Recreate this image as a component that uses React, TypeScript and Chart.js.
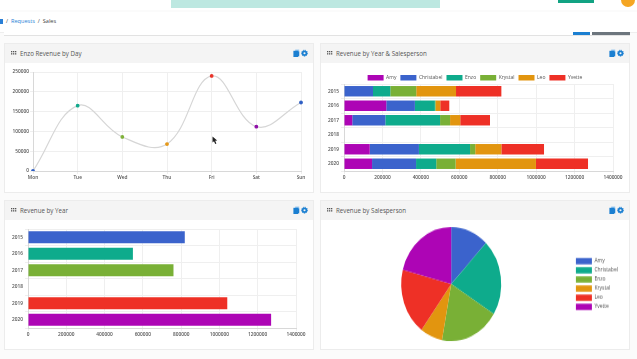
import React, { useEffect, useRef } from "react";
import { Chart, registerables } from "chart.js";

Chart.register(...registerables);

const days = ["Mon", "Tue", "Wed", "Thu", "Fri", "Sat", "Sun"];
const enzoByDay = [0, 165000, 86000, 68000, 240000, 112000, 173000];
const dayPointColors = ["#2f5fc4", "#12a98d", "#7fb13a", "#e59a1c", "#e9352b", "#8f0fa8", "#2f5fc4"];

const years = ["2015", "2016", "2017", "2018", "2019", "2020"];
const people = ["Amy", "Christabel", "Enzo", "Krystal", "Leo", "Yvette"];
const amy = [0, 220000, 43000, 0, 134000, 146000];
const christabel = [151000, 149000, 172000, 0, 256000, 229000];
const enzo = [90000, 104000, 285000, 0, 266000, 105000];
const krystal = [135000, 4000, 52000, 0, 27000, 101000];
const leo = [207000, 24000, 53000, 0, 136000, 418000];
const yvette = [236000, 47000, 155000, 0, 222000, 271000];
const stackColors = ["#ad05b5", "#3b63cc", "#0eab8c", "#79b036", "#e2950f", "#ee3026"];

const yearTotals = [819000, 548000, 760000, 0, 1041000, 1270000];
const yearColors = ["#3b63cc", "#0eab8c", "#79b036", "#e2950f", "#ee3026", "#ad05b5"];

const personTotals = [543000, 957000, 850000, 319000, 838000, 931000];
const pieColors = ["#3b63cc", "#0eab8c", "#79b036", "#e2950f", "#ee3026", "#ad05b5"];

const tickFont = { family: "'Open Sans'", size: 4.8, weight: "600" };
const legendFont = { family: "'Open Sans'", size: 5 };
const tickColor = "#555";
const gridColor = "#efefef";
const plainNumber = (v: any) => String(v);

function fixed(width?: number, height?: number) {
  return (s: any) => {
    if (width !== undefined) s.width = width;
    if (height !== undefined) s.height = height;
  };
}

const legendPlacePlugin = (h: number, shift: number) => ({
  id: "legendPlace",
  beforeLayout(chart: any) {
    const lg = chart.legend;
    if (lg && !lg.__patched) {
      const f = lg.fit;
      lg.fit = function () {
        f.call(this);
        this.height = h;
      };
      lg.__patched = true;
    }
  },
  afterLayout(chart: any) {
    const lg = chart.legend;
    if (lg) {
      lg.left += shift;
      lg.right += shift;
      lg.adjustHitBoxes();
    }
  },
});

function hBarScales(stacked: boolean): any {
  return {
    x: {
      stacked,
      min: 0,
      max: 1400000,
      ticks: { stepSize: 200000, font: tickFont, color: tickColor, padding: 1, maxRotation: 0, callback: plainNumber },
      grid: { color: gridColor, tickLength: 3 },
      border: { color: "#d8d8d8" },
      afterFit: fixed(undefined, 20),
    },
    y: {
      stacked,
      ticks: { font: tickFont, color: tickColor, padding: 2 },
      grid: { color: gridColor, tickLength: 3 },
      border: { color: "#d8d8d8" },
      afterFit: fixed(23, undefined),
    },
  };
}

function useChart(make: (c: HTMLCanvasElement) => Chart) {
  const ref = useRef<HTMLCanvasElement | null>(null);
  useEffect(() => {
    if (!ref.current) return;
    const chart = make(ref.current);
    return () => chart.destroy();
  }, []);
  return ref;
}

const grip = (x: number, y: number) => (
  <svg style={{ position: "absolute", left: x, top: y }} width={6} height={4}>
    {[0, 2, 4].map((dx) =>
      [0, 2.2].map((dy) => <rect key={`${dx}${dy}`} x={dx} y={dy} width={1.3} height={1.3} fill="#555" />)
    )}
  </svg>
);

const icons = (x: number, y: number) => (
  <svg style={{ position: "absolute", left: x, top: y }} width={18} height={9}>
    <rect x={2.2} y={0.6} width={4} height={5.6} fill="#8fc3ee" />
    <rect x={0.4} y={1.8} width={4.6} height={6.2} fill="#1b7fd1" />
    <rect x={3} y={2.4} width={3.2} height={5} fill="#1b7fd1" />
    <circle cx={11.5} cy={4.2} r={1.9} fill="none" stroke="#1b7fd1" strokeWidth={1.7} />
    <circle cx={11.5} cy={4.2} r={3} fill="none" stroke="#1b7fd1" strokeWidth={0.9} strokeDasharray="1.2 0.8" />
  </svg>
);

function Card({ x, y, title }: { x: number; y: number; title: string }) {
  return (
    <div
      style={{
        position: "absolute",
        left: x,
        top: y,
        width: 310,
        height: 149.5,
        boxSizing: "border-box",
        border: "1px solid #ececec",
        background: "#fff",
      }}
    >
      <div
        style={{
          position: "absolute",
          left: 0,
          right: 0,
          top: 0,
          height: 19,
          background: "#f4f4f4",
          fontFamily: "'Open Sans'",
          fontSize: 6.2,
          lineHeight: "19px",
          color: "#555",
          paddingLeft: 15,
          whiteSpace: "nowrap",
        }}
      >
        {title}
      </div>
      {grip(6, 7)}
      {icons(288, 5)}
    </div>
  );
}

const abs = (left: number, top: number, width: number, height: number, background: string): React.CSSProperties => ({
  position: "absolute",
  left,
  top,
  width,
  height,
  background,
});

export default function App() {
  const line = useChart(
    (c) =>
      new Chart(c, {
        type: "line",
        data: {
          labels: days,
          datasets: [
            {
              data: enzoByDay,
              borderColor: "#d6d6d6",
              borderWidth: 1.2,
              tension: 0.4,
              fill: false,
              pointRadius: 1.3,
              pointBackgroundColor: dayPointColors,
              pointBorderColor: dayPointColors,
            },
          ],
        },
        options: {
          animation: false,
          responsive: false,
          layout: { padding: { top: 9, right: 11, left: 0, bottom: 0 } },
          plugins: { legend: { display: false }, tooltip: { enabled: false } },
          scales: {
            x: {
              ticks: { font: tickFont, color: tickColor, padding: 1, maxRotation: 0 },
              grid: { color: gridColor, tickLength: 3 },
              border: { color: "#d8d8d8" },
              afterFit: fixed(undefined, 20),
            },
            y: {
              min: 0,
              max: 250000,
              ticks: { stepSize: 50000, font: tickFont, color: tickColor, padding: 1, callback: plainNumber },
              grid: { color: gridColor, tickLength: 3 },
              border: { color: "#d8d8d8" },
              afterFit: fixed(28, undefined),
            },
          },
        },
      } as any)
  );

  const stacked = useChart(
    (c) =>
      new Chart(c, {
        type: "bar",
        data: {
          labels: years,
          datasets: [amy, christabel, enzo, krystal, leo, yvette].map((d, i) => ({
            label: people[i],
            data: d,
            backgroundColor: stackColors[i],
          })),
        },
        options: {
          indexAxis: "y",
          animation: false,
          responsive: false,
          layout: { padding: { top: 8, right: 16, left: 0, bottom: 0 } },
          plugins: {
            tooltip: { enabled: false },
            legend: {
              position: "top",
              labels: { boxWidth: 16, boxHeight: 5.5, font: legendFont, color: "#555", padding: 4 },
            },
          },
          scales: hBarScales(true),
        },
        plugins: [legendPlacePlugin(13, 8)],
      } as any)
  );

  const byYear = useChart(
    (c) =>
      new Chart(c, {
        type: "bar",
        data: { labels: years, datasets: [{ data: yearTotals, backgroundColor: yearColors }] },
        options: {
          indexAxis: "y",
          animation: false,
          responsive: false,
          layout: { padding: { top: 9, right: 16, left: 0, bottom: 0 } },
          plugins: { legend: { display: false }, tooltip: { enabled: false } },
          scales: hBarScales(false),
        },
      } as any)
  );

  const pie = useChart(
    (c) =>
      new Chart(c, {
        type: "pie",
        data: {
          labels: people,
          datasets: [{ data: personTotals, backgroundColor: pieColors, borderWidth: 0 }],
        },
        options: {
          animation: false,
          responsive: false,
          layout: { padding: { top: 14, bottom: 14, left: 8, right: 4 } },
          plugins: {
            tooltip: { enabled: false },
            legend: {
              position: "right",
              labels: { boxWidth: 16, boxHeight: 5.5, font: legendFont, color: "#555", padding: 2.5 },
            },
          },
        },
      } as any)
  );

  return (
    <div
      style={{
        position: "fixed",
        left: 0,
        top: 0,
        width: 637,
        height: 359,
        overflow: "hidden",
        background: "#fbfbfb",
        filter: "blur(0.35px)",
      }}
    >
      <div style={abs(0, 0, 637, 10, "#fff")} />
      <div style={abs(171, 0, 269, 8, "#bde8e1")} />
      <div style={abs(558, 0, 36, 3, "#12a383")} />
      <div style={{ ...abs(621, -7, 14, 14, "#f5a623"), borderRadius: 7 }} />
      <div style={abs(0, 12, 637, 20, "#fff")} />
      <div style={abs(0, 31.5, 637, 1, "#eee")} />
      <div style={abs(4, 32, 626, 3, "#fff")} />
      <div style={abs(4, 35, 626, 1, "#e2e2e2")} />
      <div style={abs(0, 19, 3, 5, "#2a7fd6")} />
      <div style={{ position: "absolute", left: 6, top: 17, fontFamily: "'Open Sans'", fontSize: 5.6, lineHeight: "9px", whiteSpace: "pre", color: "#444" }}>
        {"/  "}
        <span style={{ color: "#2a7fd6" }}>Requests</span>
        {"  /  Sales"}
      </div>
      <div style={abs(573, 32, 17, 3, "#1b7fd1")} />
      <div style={abs(592, 32, 38, 3, "#6c757d")} />

      <Card x={4} y={43} title="Enzo Revenue by Day" />
      <Card x={320} y={43} title="Revenue by Year & Salesperson" />
      <Card x={4} y={200} title="Revenue by Year" />
      <Card x={320} y={200} title="Revenue by Salesperson" />

      <canvas ref={line} width={307} height={128} style={{ position: "absolute", left: 5, top: 63 }} />
      <canvas ref={stacked} width={308} height={128} style={{ position: "absolute", left: 321, top: 63 }} />
      <canvas ref={byYear} width={307} height={128} style={{ position: "absolute", left: 5, top: 220 }} />
      <canvas ref={pie} width={311} height={128} style={{ position: "absolute", left: 321, top: 220, transform: "scaleY(1.14)" }} />

      <svg style={{ position: "absolute", left: 212, top: 136 }} width={6} height={9}>
        <path d="M0.5 0.5 L0.5 6.5 L2 5.2 L3.2 8 L4.4 7.4 L3.2 4.8 L5.2 4.6 Z" fill="#222" />
      </svg>
    </div>
  );
}
